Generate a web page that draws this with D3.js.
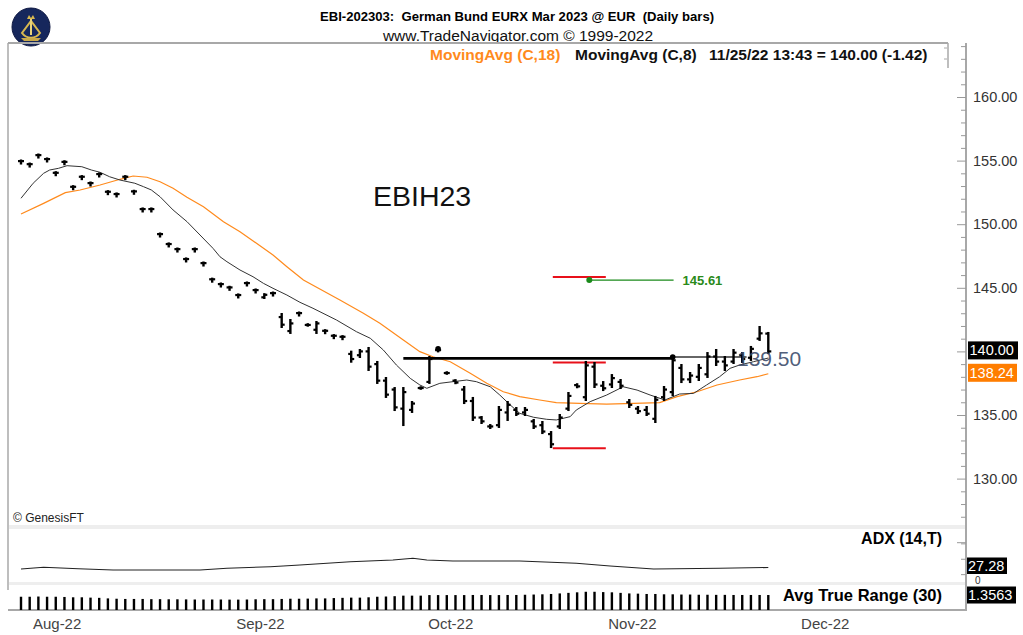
<!DOCTYPE html>
<html>
<head>
<meta charset="utf-8">
<script src="https://cdn.jsdelivr.net/npm/d3@7"></script>
<style>
  body { margin: 0; background: #fff; }
  text { font-family: "Liberation Sans", Arial, sans-serif; }
</style>
</head>
<body>
<div id="chart-area"></div>
<script>
// daily bars, Jul 26 .. Nov 25 2022 (bar index 0..86)
const highs = [155.01,154.77,155.48,155.17,154.09,154.95,152.99,153.78,153.28,153.99,
  152.60,152.42,153.78,152.63,151.24,151.24,149.27,148.49,148.09,147.31,
  148.09,146.99,145.72,145.34,145.08,144.48,145.42,144.87,144.50,144.63,
  142.94,142.47,143.06,142.14,142.31,141.67,141.28,141.20,139.98,140.11,
  140.27,139.17,137.91,137.12,137.12,136.02,137.18,139.56,140.20,138.36,
  137.74,137.20,136.34,134.84,134.21,135.63,136.02,135.55,135.55,134.61,
  134.45,133.66,135.00,136.73,137.42,139.17,139.09,137.59,138.14,137.75,
  136.18,135.63,135.63,136.42,137.20,139.56,138.93,138.30,138.93,139.87,
  140.11,139.56,140.11,139.87,140.35,141.92,141.45];
const lows = [154.77,154.53,155.24,154.93,153.85,154.71,152.75,153.54,153.04,153.75,
  152.36,152.18,153.54,152.39,151.00,151.00,149.03,148.25,147.85,147.07,
  147.85,146.75,145.48,145.10,144.84,144.24,145.18,144.63,144.20,144.39,
  141.92,141.45,142.82,142.02,141.45,141.43,141.04,140.96,139.19,139.56,
  138.54,137.52,136.42,135.39,134.21,135.24,137.06,137.52,140.00,138.24,
  137.50,135.94,134.61,134.37,133.98,134.06,134.61,135.00,135.00,133.98,
  133.58,132.48,133.98,135.39,137.18,136.18,137.20,136.96,137.20,137.12,
  135.63,135.16,135.00,134.45,136.18,136.57,137.59,137.59,137.75,137.99,
  138.93,138.54,139.09,139.17,139.33,140.90,139.87];
const opens = [154.96,154.72,155.43,155.12,154.04,154.90,152.94,153.73,153.23,153.94,
  152.55,152.37,153.73,152.58,151.19,151.19,149.22,148.44,148.04,147.26,
  148.04,146.94,145.67,145.29,145.03,144.43,145.37,144.82,144.25,144.58,
  142.70,141.60,143.01,142.08,141.70,141.62,141.23,141.15,139.80,139.70,
  140.00,139.00,137.70,137.00,135.50,135.40,137.12,137.60,140.10,138.30,
  137.70,137.00,136.10,134.80,134.10,134.20,135.20,135.40,135.20,134.50,
  134.20,133.50,134.10,135.50,137.35,136.40,138.80,137.30,137.40,137.60,
  136.00,135.50,135.40,134.70,136.40,136.80,138.70,137.80,138.00,138.20,
  139.60,139.20,139.20,139.70,139.50,141.00,141.40];
const closes = [154.96,154.72,155.43,155.12,154.04,154.90,152.94,153.73,153.23,153.94,
  152.55,152.37,153.73,152.58,151.19,151.19,149.22,148.44,148.04,147.26,
  148.04,146.94,145.67,145.29,145.03,144.43,145.37,144.82,144.45,144.58,
  142.10,142.20,143.01,142.08,142.20,141.62,141.23,141.15,139.40,140.00,
  138.80,137.70,136.60,135.60,136.80,135.90,137.12,139.40,140.10,138.30,
  137.55,136.10,134.80,134.50,134.10,135.40,135.80,135.10,135.40,134.10,
  133.70,132.70,134.80,136.50,137.25,138.90,137.40,137.10,137.90,137.30,
  135.80,135.30,135.10,136.20,137.00,139.30,137.80,138.10,138.70,139.60,
  139.20,138.90,139.90,139.40,140.20,141.42,140.00];

// moving averages: [bar index, value]
const ma18 = [[0,150.80],[2.6,151.64],[5.1,152.48],[6.8,152.69],[9.1,153.08],[11.4,153.53],
  [12.9,153.79],[14.5,153.69],[16,153.34],[17.5,152.82],[19.1,152.11],[21,151.38],
  [23.3,150.20],[25.2,149.41],[27.1,148.50],[29,147.58],[30.6,146.66],[32.5,145.61],
  [36.7,144.04],[39.4,143.00],[41.3,142.21],[44,140.90],[45.9,139.98],[47.4,139.58],
  [49.4,139.19],[51.7,138.28],[53.6,137.49],[55.5,136.83],[57.4,136.44],[59.7,136.18],
  [61.6,135.97],[64.3,135.92],[67.4,135.86],[70.5,135.92],[73.5,135.97],[75.5,136.44],
  [77.8,136.83],[80.1,137.36],[82.7,137.75],[84.7,138.01],[86,138.24]];
const ma8 = [[0,152.04],[1.4,153.22],[2.6,154.00],[3.3,154.26],[4.3,154.39],[5.3,154.60],
  [7,154.52],[8.1,154.26],[9.1,154.08],[10.2,153.73],[11.4,153.47],[13.1,153.22],
  [14.1,152.95],[15,152.69],[16,152.16],[17.5,151.12],[19.1,150.20],[20.6,149.15],
  [22.1,148.10],[22.9,147.44],[23.7,147.05],[25.2,146.40],[26.7,145.87],[27.9,145.35],
  [29,144.96],[30.6,144.43],[32.1,143.86],[33.6,143.39],[36.3,142.47],[38.6,141.55],
  [40.2,141.03],[41.7,140.11],[43.2,138.93],[44.8,137.88],[45.9,137.36],[46.7,137.10],
  [48.2,137.49],[49.7,137.62],[51.3,137.75],[52.4,137.62],[54,137.22],[55.1,136.57],
  [56.3,135.79],[57.4,135.13],[59,134.82],[60.5,134.66],[61.6,134.61],[63.2,134.87],
  [63.9,135.39],[65.5,136.05],[67.4,136.57],[69.3,137.22],[70.9,136.96],[72.4,136.57],
  [74.1,136.18],[75.8,136.65],[77.4,136.70],[78.9,137.36],[80.4,138.01],[81.6,138.67],
  [82.7,138.93],[84.3,139.19],[86,139.48]];

const adx = [[0,23.4],[2.6,27.8],[6.6,24.2],[10.6,20.8],[20.6,20.8],[23.7,25.2],[28.7,29.4],
  [32.1,33.8],[37.9,42.3],[42.8,46.8],[45.1,51.2],[46.7,46.8],[49.7,44.2],[57.4,44.2],
  [63.9,38.2],[67.8,31.2],[72.8,23.4],[80.4,25.2],[86,27.28]];
const atr = [1.20,1.20,1.22,1.20,1.20,1.18,1.15,1.15,1.12,1.10,
  1.05,1.02,1.00,1.00,1.00,0.98,0.98,0.97,0.97,0.96,
  0.95,0.95,0.95,0.95,0.94,0.94,0.95,0.97,0.98,0.98,
  1.00,1.02,1.02,1.03,1.05,1.05,1.08,1.10,1.12,1.12,
  1.15,1.20,1.22,1.25,1.30,1.30,1.30,1.35,1.35,1.35,
  1.35,1.35,1.36,1.36,1.35,1.35,1.36,1.36,1.38,1.40,
  1.42,1.45,1.50,1.55,1.60,1.65,1.65,1.62,1.60,1.55,
  1.50,1.48,1.45,1.45,1.42,1.42,1.40,1.40,1.38,1.38,
  1.37,1.37,1.36,1.36,1.36,1.36,1.3563];

const months = ["Aug-22","Sep-22","Oct-22","Nov-22","Dec-22"];
const monthPos = [4.1, 27.5, 49.4, 70.3, 92.5];
const priceTicks = [130,135,145,150,155,160]; // 140 sits under the last-price box

// drawn studies
const resistance = {from: 44, to: 75, level: 139.45};
const resistance2 = {from: 75, to: 83.5, level: 139.55};
const redLevels = [145.85, 139.12, 132.38];
const redSpan = [61.2, 67.3];
const target = {from: 65.4, to: 75.1, level: 145.61};

const W = 1023, H = 635;
const svg = d3.select("#chart-area").append("svg")
    .attr("width", W).attr("height", H)
    .style("display", "block");
svg.append("rect").attr("width", W).attr("height", H).attr("fill", "#fff");

const x = d3.scaleLinear().domain([0, 86]).range([21, 768.3]);
const y = d3.scaleLinear().domain([130, 160]).range([478.6, 97]);
const yAdx = d3.scaleLinear().domain([0, 100]).range([578, 539.5]);
const yAtr = d3.scaleLinear().domain([0, 2]).range([610, 587.9]);
const font = "'Liberation Sans', Arial, sans-serif";

// ---- header
const logo = svg.append("g").attr("transform", "translate(31,27)");
logo.append("circle").attr("r", 19).attr("fill", "#16275c").attr("stroke", "#0c1640");
logo.append("path").attr("d", "M-9,6 A11,11 0 0,0 9,6 L0,-6 Z")
    .attr("fill", "none").attr("stroke", "#d8b850").attr("stroke-width", 2);
logo.append("path").attr("d", "M-4,-8 L-2,-12 L0,-9 L2,-12 L4,-8 Z").attr("fill", "#d8b850");
logo.append("line").attr("x1", 0).attr("y1", -8).attr("x2", 0).attr("y2", 8)
    .attr("stroke", "#e8d27a").attr("stroke-width", 2);
logo.append("path").attr("d", "M-10,11 L10,11 L7,14 L-7,14 Z").attr("fill", "#c9a94a");

svg.append("text").attr("x", 517).attr("y", 20.5).attr("text-anchor", "middle")
    .style("white-space", "pre").attr("font-size", 13.1).attr("font-weight", "bold")
    .text("EBI-202303:  German Bund EURX Mar 2023 @ EUR  (Daily bars)");
svg.append("text").attr("x", 518).attr("y", 40.5).attr("text-anchor", "middle")
    .attr("font-size", 15.5).attr("fill", "#111")
    .text("www.TradeNavigator.com © 1999-2022");

const legend = svg.append("text").attr("y", 59.5).attr("font-size", 15.5).attr("font-weight", "bold")
    .style("white-space", "pre");
legend.append("tspan").attr("x", 430).attr("fill", "#ff8a1c").text("MovingAvg (C,18)");
legend.append("tspan").attr("x", 575).attr("fill", "#111").text("MovingAvg (C,8)");
legend.append("tspan").attr("x", 709).attr("fill", "#111").text("11/25/22 13:43 = 140.00 (-1.42)");

// ---- frames
const frame = svg.append("g").attr("stroke", "#a8a8a8").attr("fill", "none");
frame.append("line").attr("x1", 8).attr("x2", 948).attr("y1", 43).attr("y2", 43).attr("stroke-width", 2);
frame.append("line").attr("x1", 948).attr("x2", 948).attr("y1", 43).attr("y2", 68).attr("stroke-width", 1.5);
frame.append("line").attr("x1", 944).attr("x2", 947).attr("y1", 48).attr("y2", 48);
frame.append("line").attr("x1", 944).attr("x2", 947).attr("y1", 59).attr("y2", 59);
frame.append("line").attr("x1", 8).attr("x2", 8).attr("y1", 43).attr("y2", 590).attr("stroke-width", 1.5);
frame.append("line").attr("x1", 966).attr("x2", 966).attr("y1", 43).attr("y2", 611).attr("stroke-width", 2);
frame.append("line").attr("x1", 8).attr("x2", 967).attr("y1", 610).attr("y2", 610).attr("stroke-width", 2);
svg.append("rect").attr("x", 9).attr("y", 525).attr("width", 956).attr("height", 4).attr("fill", "#eeeeee");
svg.append("rect").attr("x", 9).attr("y", 582).attr("width", 956).attr("height", 3).attr("fill", "#eeeeee");

// ---- price axis (ticks inside, labels outside)
const minor = d3.range(127, 165, 1).filter(v => v % 5 !== 0);
svg.append("g").attr("transform", "translate(966,0)")
    .call(d3.axisLeft(y).tickValues(minor).tickSize(5).tickFormat(""))
    .call(g => g.select(".domain").remove())
    .selectAll("line").attr("stroke", "#999");
svg.append("g").attr("transform", "translate(966,0)")
    .call(d3.axisLeft(y).tickValues(d3.range(125, 165, 5)).tickSize(9).tickFormat(""))
    .call(g => g.select(".domain").remove())
    .selectAll("line").attr("stroke", "#999");
svg.append("g").attr("transform", "translate(966,0)")
    .call(d3.axisRight(y).tickValues(priceTicks).tickSize(0).tickPadding(7).tickFormat(d3.format(".2f")))
    .call(g => g.select(".domain").remove())
    .selectAll("text").attr("font-size", 14.5).attr("font-family", font).attr("fill", "#333");

// ---- moving averages
const line = d3.line().x(d => x(d[0])).y(d => y(d[1]));
svg.append("path").attr("d", line(ma18)).attr("fill", "none")
    .attr("stroke", "#ff8a1c").attr("stroke-width", 1.2);
svg.append("path").attr("d", line(ma8)).attr("fill", "none")
    .attr("stroke", "#333").attr("stroke-width", 1);

// ---- drawn studies
svg.append("line").attr("x1", x(resistance.from)).attr("x2", x(resistance.to))
    .attr("y1", y(resistance.level)).attr("y2", y(resistance.level))
    .attr("stroke", "#000").attr("stroke-width", 2.6);
svg.append("line").attr("x1", x(resistance2.from)).attr("x2", x(resistance2.to))
    .attr("y1", y(resistance2.level)).attr("y2", y(resistance2.level))
    .attr("stroke", "#333").attr("stroke-width", 1.5);
svg.selectAll("line.red").data(redLevels).join("line").attr("class", "red")
    .attr("x1", x(redSpan[0])).attr("x2", x(redSpan[1]))
    .attr("y1", d => y(d)).attr("y2", d => y(d))
    .attr("stroke", "#e8101a").attr("stroke-width", 2);
svg.append("line").attr("x1", x(target.from)).attr("x2", x(target.to))
    .attr("y1", y(target.level)).attr("y2", y(target.level))
    .attr("stroke", "#1a8a1a").attr("stroke-width", 1.3);
svg.append("circle").attr("cx", x(target.from)).attr("cy", y(target.level)).attr("r", 3)
    .attr("fill", "#1a8a1a");
svg.append("text").attr("x", x(target.to) + 9).attr("y", y(target.level) + 4.5)
    .attr("font-size", 13).attr("font-weight", "bold").attr("fill", "#2a8a1a")
    .text(target.level.toFixed(2));

// ---- OHLC bars
const idx = d3.range(highs.length);
const bars = svg.append("g").attr("stroke", "#000").attr("stroke-width", 2.4);
bars.selectAll("line.hl").data(idx).join("line").attr("class", "hl")
    .attr("x1", i => x(i)).attr("x2", i => x(i))
    .attr("y1", i => y(highs[i]) - 1).attr("y2", i => y(lows[i]) + 1);
bars.selectAll("line.op").data(idx).join("line").attr("class", "op")
    .attr("stroke-width", 2.2)
    .attr("x1", i => x(i) - 3).attr("x2", i => x(i))
    .attr("y1", i => y(opens[i])).attr("y2", i => y(opens[i]));
bars.selectAll("line.cl").data(idx).join("line").attr("class", "cl")
    .attr("stroke-width", 2.2)
    .attr("x1", i => x(i)).attr("x2", i => x(i) + 3)
    .attr("y1", i => y(closes[i])).attr("y2", i => y(closes[i]));
// pivot dots
[48, 75].forEach(i => svg.append("circle").attr("cx", x(i)).attr("cy", y(highs[i]))
    .attr("r", 2.8).attr("fill", "#000"));

svg.append("text").attr("x", 737).attr("y", 365.5).attr("font-size", 21)
    .attr("fill", "#3a4a6a").attr("fill-opacity", 0.9).text("139.50");

svg.append("text").attr("x", 373).attr("y", 206).attr("font-size", 28.5).attr("fill", "#111")
    .text("EBIH23");
svg.append("text").attr("x", 13).attr("y", 522).attr("font-size", 12).attr("fill", "#222")
    .text("© GenesisFT");

// price label boxes
function valueBox(yPos, label, fill, w) {
  svg.append("rect").attr("x", 968).attr("y", yPos - 9).attr("width", w).attr("height", 18)
      .attr("fill", fill);
  svg.append("text").attr("x", 969.5).attr("y", yPos + 5).attr("font-size", 14.5)
      .attr("fill", "#fff").text(label);
}
valueBox(y(closes[closes.length - 1]) - 1, "140.00", "#000", 50);
valueBox(y(ma18[ma18.length - 1][1]) - 1, "138.24", "#ff7d00", 49);

// ---- ADX panel
svg.append("path").attr("d", d3.line().x(d => x(d[0])).y(d => yAdx(d[1]))(adx))
    .attr("fill", "none").attr("stroke", "#222").attr("stroke-width", 1.1);
svg.append("g").attr("transform", "translate(966,0)")
    .call(d3.axisLeft(yAdx).tickValues([10, 50, 90]).tickSize(5).tickFormat(""))
    .call(g => g.select(".domain").remove())
    .selectAll("line").attr("stroke", "#999");
svg.append("text").attr("x", 942).attr("y", 543.5).attr("text-anchor", "end")
    .attr("font-size", 16).attr("font-weight", "bold").text("ADX (14,T)");
svg.append("text").attr("x", 975).attr("y", 584).attr("font-size", 10).attr("fill", "#333").text("0");
svg.append("rect").attr("x", 967).attr("y", yAdx(27.28) - 10).attr("width", 40).attr("height", 16.5).attr("fill", "#000");
svg.append("text").attr("x", 968).attr("y", yAdx(27.28) + 3.5).attr("font-size", 14.5)
    .attr("fill", "#fff").text("27.28");

// ---- ATR panel
svg.append("g").selectAll("rect").data(idx).join("rect")
    .attr("x", i => x(i) - 1.2).attr("width", 2.4)
    .attr("y", i => yAtr(atr[i])).attr("height", i => yAtr(0) - yAtr(atr[i]))
    .attr("fill", "#000");
svg.append("text").attr("x", 942).attr("y", 600.5).attr("text-anchor", "end")
    .attr("font-size", 16.5).attr("font-weight", "bold").text("Avg True Range (30)");
svg.append("rect").attr("x", 967).attr("y", yAtr(1.3563) - 8.5).attr("width", 49).attr("height", 17).attr("fill", "#000");
svg.append("text").attr("x", 968).attr("y", yAtr(1.3563) + 5).attr("font-size", 14.5)
    .attr("fill", "#fff").text("1.3563");

// ---- month axis
svg.append("g").attr("transform", "translate(0,612)")
    .call(d3.axisBottom(x).tickValues(monthPos).tickSize(0).tickPadding(6)
        .tickFormat((d, i) => months[i]))
    .call(g => g.select(".domain").remove())
    .selectAll("text").attr("font-size", 15).attr("font-family", font).attr("fill", "#444");
</script>
</body>
</html>
